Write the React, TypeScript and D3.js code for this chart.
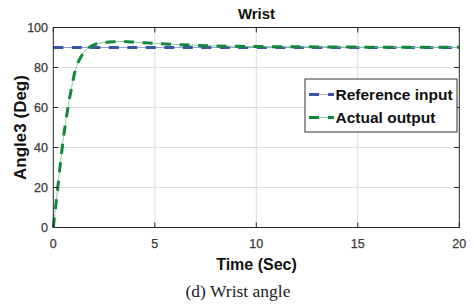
import React from "react";
import * as d3 from "d3";

const W = 474;
const H = 306;

const timeSec = [0, 0.1, 0.2, 0.3, 0.4, 0.5, 0.6, 0.7, 0.8, 0.9, 1.0, 1.1, 1.2, 1.4, 1.6, 1.8, 2.0, 2.3, 2.6, 3.0, 3.4, 4.0, 4.5, 5, 6, 7, 8, 9, 10, 11, 12, 13, 14, 15, 16, 18, 20];
const actualOutput = [0, 9, 18, 27.5, 36.5, 45, 52, 58.5, 64.5, 70, 75, 79, 82, 86, 88.7, 90.3, 91.3, 92.2, 92.6, 92.9, 93.0, 92.7, 92.35, 92.0, 91.5, 91.1, 90.8, 90.6, 90.5, 90.4, 90.35, 90.3, 90.25, 90.2, 90.15, 90.1, 90.1];
const referenceTime = [0, 20];
const referenceInput = [90, 90];

const xTicks = [0, 5, 10, 15, 20];
const yTicks = [0, 20, 40, 60, 80, 100];
const legendLabels = ["Reference input", "Actual output"];

const BLUE = "#3a55a8";
const GREEN = "#13883c";

export default function App() {
  const x = d3.scaleLinear().domain([0, 20]).range([53.3, 459.3]);
  const y = d3.scaleLinear().domain([0, 100]).range([227.5, 27.5]);
  const line = d3
    .line<[number, number]>()
    .x((d) => x(d[0]))
    .y((d) => y(d[1]))
    .curve(d3.curveMonotoneX);

  const actualPts: [number, number][] = timeSec.map((t, i) => [t, actualOutput[i]]);
  const refPts: [number, number][] = referenceTime.map((t, i) => [t, referenceInput[i]]);

  const x0 = x(0), x1 = x(20), yb = y(0), yt = y(100);
  const tickLen = 5;
  const font = "'Liberation Sans', Arial, Helvetica, sans-serif";
  const dash = "10,8.5";

  const legX = 305, legY = 79, legW = 152, legH = 53;
  const legendColors = [BLUE, GREEN];

  return (
    <svg width={W} height={H} style={{ position: "absolute", left: 0, top: 0, background: "#fff" }} fontFamily={font}>
      <rect x={0} y={0} width={W} height={H} fill="#fff" />
      {/* grid */}
      {xTicks.filter((t) => t > 0 && t < 20).map((t) => (
        <line key={"gx" + t} x1={x(t)} x2={x(t)} y1={yt} y2={yb} stroke="#dedede" strokeWidth={1} />
      ))}
      {yTicks.filter((t) => t > 0 && t < 100).map((t) => (
        <line key={"gy" + t} x1={x0} x2={x1} y1={y(t)} y2={y(t)} stroke="#dedede" strokeWidth={1} />
      ))}

      {/* reference */}
      <path d={line(refPts) || ""} fill="none" stroke={BLUE} strokeWidth={0.8} opacity={0.7} />
      <path d={line(refPts) || ""} fill="none" stroke={BLUE} strokeWidth={3} strokeDasharray={dash} />
      {/* actual */}
      <path d={line(actualPts) || ""} fill="none" stroke="#7cc896" strokeWidth={0.9} />
      <path d={line(actualPts) || ""} fill="none" stroke={GREEN} strokeWidth={3} strokeDasharray={dash} />

      {/* box */}
      <rect x={x0} y={yt} width={x1 - x0} height={yb - yt} fill="none" stroke="#262626" strokeWidth={1} />
      {/* ticks */}
      {xTicks.map((t) => (
        <g key={"tx" + t}>
          <line x1={x(t)} x2={x(t)} y1={yb} y2={yb - tickLen} stroke="#262626" />
          <line x1={x(t)} x2={x(t)} y1={yt} y2={yt + tickLen} stroke="#262626" />
          <text x={x(t)} y={248} textAnchor="middle" fontSize={12.5} fill="#383838" stroke="#383838" strokeWidth={0.25}>{t}</text>
        </g>
      ))}
      {yTicks.map((t) => (
        <g key={"ty" + t}>
          <line x1={x0} x2={x0 + tickLen} y1={y(t)} y2={y(t)} stroke="#262626" />
          <line x1={x1} x2={x1 - tickLen} y1={y(t)} y2={y(t)} stroke="#262626" />
          <text x={48} y={y(t) + 4.5} textAnchor="end" fontSize={12.5} fill="#383838" stroke="#383838" strokeWidth={0.25}>{t}</text>
        </g>
      ))}

      {/* title & labels */}
      <text x={256.5} y={19} textAnchor="middle" fontSize={15} fontWeight="bold" fill="#111">Wrist</text>
      <text x={256.5} y={270} textAnchor="middle" fontSize={16} fontWeight="bold" fill="#111">Time (Sec)</text>
      <text transform={`translate(25.5,${(yt + yb) / 2}) rotate(-90)`} textAnchor="middle" fontSize={17} fontWeight="bold" fill="#111">Angle3 (Deg)</text>

      {/* legend */}
      <rect x={legX} y={legY} width={legW} height={legH} fill="#fff" stroke="#333" strokeWidth={1} />
      {legendLabels.map((lab, i) => {
        const ly = 94.5 + i * 23;
        return (
          <g key={lab}>
            <line x1={309} x2={334} y1={ly} y2={ly} stroke={legendColors[i]} strokeWidth={0.8} opacity={0.5} />
            <line x1={309} x2={334} y1={ly} y2={ly} stroke={legendColors[i]} strokeWidth={3} strokeDasharray="10,9" />
            <text x={335.5} y={ly + 5.5} fontSize={15.5} fontWeight="bold" fill="#111">{lab}</text>
          </g>
        );
      })}

      {/* caption */}
      <text x={238} y={297} textAnchor="middle" fontSize={17.5} fill="#222" fontFamily="'Liberation Serif', 'Times New Roman', serif">(d) Wrist angle</text>
    </svg>
  );
}
